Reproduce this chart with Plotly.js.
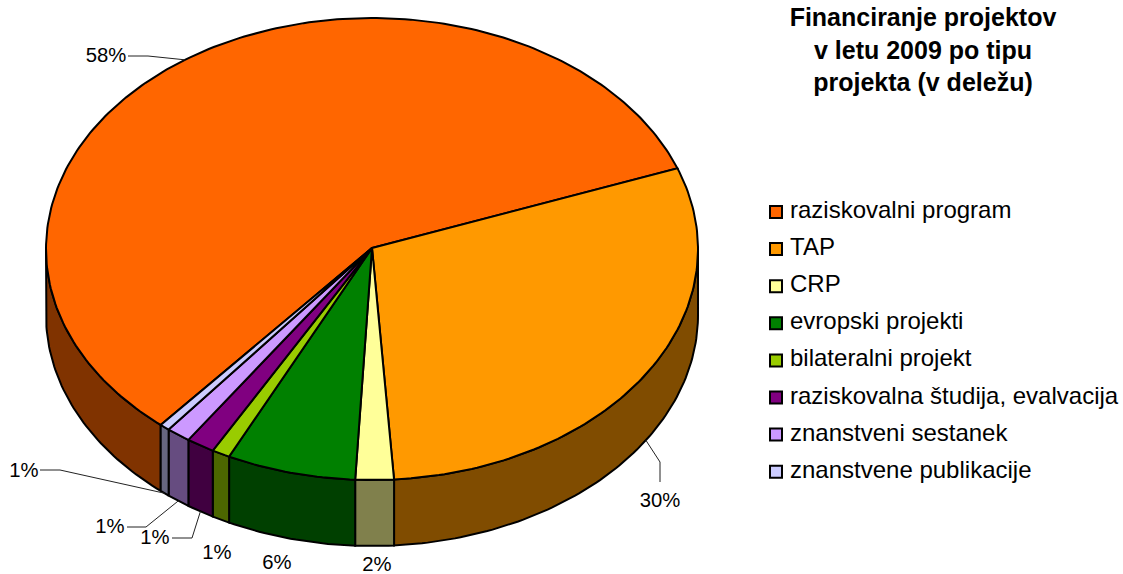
<!DOCTYPE html>
<html>
<head>
<meta charset="utf-8">
<script src="https://cdn.plot.ly/plotly-3.0.1.min.js"></script>
<style>html,body{margin:0;padding:0;background:#fff}#chart{width:1123px;height:574px}</style>
</head>
<body>
<div id="chart"></div>
<script>
// Data
const categories = ["raziskovalni program","TAP","CRP","evropski projekti","bilateralni projekt","raziskovalna študija, evalvacija","znanstveni sestanek","znanstvene publikacije"];
const shares = [58.1,29.6,1.9,6.4,0.9,1.4,1.2,0.5];
const topColors = ["#FF6600","#FF9900","#FFFF99","#008000","#99CC00","#800080","#CC99FF","#CCCCFF"];
const sideColors = ["#803300","#804C00","#80804C","#004000","#4C6600","#400040","#664C80","#666680"];
const titleLines = ["Financiranje projektov","v letu 2009 po tipu","projekta (v deležu)"];

// Pie geometry and label layout (pixel-like axis units)
const cx = 372, cy = 249, rx = 326, ry = 231, depth = 66, startAngle = 220.4;
const labelPos = [[106,57],[660,502],[377,566],[277,564],[217,554],[155,539],[110,528],[24,472]];
const elbows = [[[128,56],[148,56]],[[660,482],[660,462]],null,null,null,[[172,538],[192,538]],[[127,527],[146,527]],[[40,470],[60,470]]];
const legendX = 776, legendTextX = 790, legendY0 = 212, legendTextY0 = 212, legendStep = 37.1;

const rad = d => d*Math.PI/180;
const px = a => cx + rx*Math.sin(rad(a));
const py = (a,off=0) => cy - ry*Math.cos(rad(a)) + off;

let cum = startAngle;
const slices = shares.map((v,i)=>{const s=cum; cum+=v*3.6; return {i,v,start:s,end:cum};});
function arc(a,b,off){const xs=[],ys=[];const n=Math.max(2,Math.ceil(Math.abs(b-a)));for(let k=0;k<=n;k++){const t=a+(b-a)*k/n;xs.push(px(t));ys.push(py(t,off));}return [xs,ys];}

const traces = [];
const polyBase = {type:"scatter",mode:"lines",fill:"toself",hoverinfo:"skip",showlegend:false,line:{color:"#000",width:2}};
// side walls: only the part of each slice on the front half of the rim
slices.forEach(s=>{
  [[s.start,s.end],[s.start-360,s.end-360]].forEach(([a,b])=>{
    const lo=Math.max(a,90), hi=Math.min(b,270);
    if(hi<=lo) return;
    const [x1,y1]=arc(lo,hi,0), [x2,y2]=arc(hi,lo,depth);
    traces.push(Object.assign({},polyBase,{x:x1.concat(x2,[x1[0]]),y:y1.concat(y2,[y1[0]]),fillcolor:sideColors[s.i],name:categories[s.i]+" (stran)"}));
  });
});
// top faces
slices.forEach(s=>{
  const [x1,y1]=arc(s.start,s.end,0);
  traces.push(Object.assign({},polyBase,{x:[cx].concat(x1,[cx]),y:[cy-1].concat(y1,[cy-1]),fillcolor:topColors[s.i],name:categories[s.i]}));
});
// leader lines
slices.forEach(s=>{
  if(!elbows[s.i]) return;
  const mid=(s.start+s.end)/2, m=((mid%360)+360)%360;
  const off=(m>90&&m<270)?depth:0;
  traces.push({type:"scatter",mode:"lines",hoverinfo:"skip",showlegend:false,line:{color:"#222",width:1},
    x:elbows[s.i].map(p=>p[0]).concat([px(mid)]),y:elbows[s.i].map(p=>p[1]).concat([py(mid,off)])});
});
// value labels
traces.push({type:"scatter",mode:"text",hoverinfo:"skip",showlegend:false,
  x:labelPos.map(p=>p[0]),y:labelPos.map(p=>p[1]),text:shares.map(v=>Math.round(v)+"%"),textposition:"middle center",
  textfont:{family:"Liberation Sans, Arial, sans-serif",size:20.3,color:"#000"}});
// legend column
traces.push({type:"scatter",mode:"markers",hoverinfo:"skip",showlegend:false,
  x:categories.map(()=>legendX),y:categories.map((c,i)=>legendY0+i*legendStep),
  marker:{symbol:"square",size:12,color:topColors,line:{color:"#000",width:2}}});
traces.push({type:"scatter",mode:"text",hoverinfo:"skip",showlegend:false,
  x:categories.map(()=>legendTextX),y:categories.map((c,i)=>legendTextY0+i*legendStep),text:categories,textposition:"middle right",
  textfont:{family:"Liberation Sans, Arial, sans-serif",size:24,color:"#000"}});

const layout = {
  width:1123,height:574,margin:{l:0,r:0,t:0,b:0},paper_bgcolor:"#fff",plot_bgcolor:"#fff",showlegend:false,hovermode:false,
  xaxis:{range:[0,1123],visible:false,fixedrange:true},
  yaxis:{range:[574,0],visible:false,fixedrange:true},
  title:{text:titleLines.join("<br>"),
    font:{family:"Liberation Sans, Arial, sans-serif",size:25,color:"#000",weight:700},
    x:923/1123,xanchor:"center",xref:"paper",y:1-26/574,yanchor:"top",yref:"container"}
};
Plotly.newPlot("chart",traces,layout,{displayModeBar:false,staticPlot:true});
</script>
</body>
</html>
